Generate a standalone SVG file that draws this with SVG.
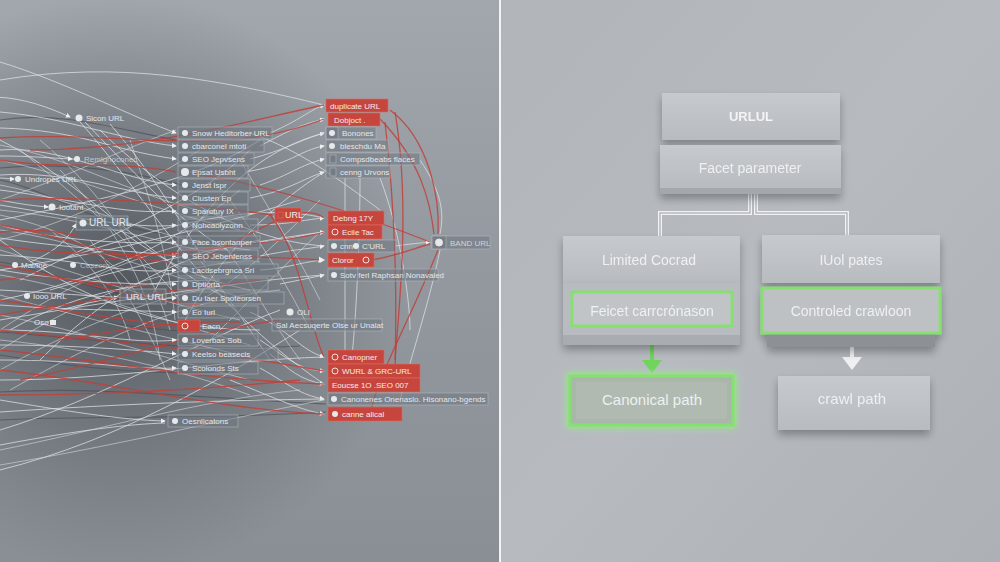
<svg xmlns="http://www.w3.org/2000/svg" width="1000" height="562" viewBox="0 0 1000 562">
<defs>
<linearGradient id="bgL" x1="0" y1="0" x2="0" y2="1"><stop offset="0" stop-color="#a2a7ad"/><stop offset="0.5" stop-color="#93989f"/><stop offset="1" stop-color="#8a8f96"/></linearGradient>
<radialGradient id="darkL" cx="120" cy="285" r="290" gradientUnits="userSpaceOnUse"><stop offset="0" stop-color="#464b52" stop-opacity="0.85"/><stop offset="0.55" stop-color="#555a61" stop-opacity="0.45"/><stop offset="1" stop-color="#5a5f66" stop-opacity="0"/></radialGradient>
<linearGradient id="bgR" x1="0" y1="0" x2="1" y2="1"><stop offset="0" stop-color="#b1b5ba"/><stop offset="0.5" stop-color="#b7bbc0"/><stop offset="1" stop-color="#adb1b6"/></linearGradient>
<linearGradient id="box" x1="0" y1="0" x2="0" y2="1"><stop offset="0" stop-color="#c6c9cd"/><stop offset="1" stop-color="#b8bcc0"/></linearGradient>
<filter id="sh" x="-20%" y="-20%" width="140%" height="160%"><feGaussianBlur in="SourceAlpha" stdDeviation="4"/><feOffset dy="5"/><feComponentTransfer><feFuncA type="linear" slope="0.3"/></feComponentTransfer><feMerge><feMergeNode/><feMergeNode in="SourceGraphic"/></feMerge></filter>
<filter id="glow" x="-20%" y="-30%" width="140%" height="160%"><feGaussianBlur stdDeviation="3"/></filter>
<marker id="aw" viewBox="0 0 6 6" refX="5" refY="3" markerWidth="5" markerHeight="5" orient="auto"><path d="M0 0 L6 3 L0 6 Z" fill="#eef0f2"/></marker>
<style>
text{font-family:"Liberation Sans",Arial,sans-serif}
.cg path{fill:none;stroke:#d9dde1;stroke-width:1;stroke-opacity:.8}
.cx path{fill:none;stroke:#e2e5e8;stroke-width:.9;stroke-opacity:.6}
.cr path{fill:none;stroke:#c0413a;stroke-width:1.3;stroke-opacity:.85}
.cd path{fill:none;stroke:#4b5058;stroke-width:1.2;stroke-opacity:.7}
.tg rect{fill:#6f767f;fill-opacity:.55;stroke:#b0b5bb;stroke-width:.6}
.tg circle{fill:#e6e9ec}
.tg text,.tr text,.tn text{font-size:8px;fill:#e4e7ea}
.tr rect{fill:#c6463d;stroke:#dc6a60;stroke-width:.6}
.tr text{fill:#f5ecea}
.tr circle{fill:none;stroke:#f3e3e0;stroke-width:1}
.ri{fill:#c6463d}
.tn circle{fill:#e6e9ec}
.bx text{font-size:14px;fill:#eef0f2;text-anchor:middle}
</style>
</defs>

<g id="background">
<rect x="0" y="0" width="500" height="562" fill="url(#bgL)"/>
<rect x="0" y="0" width="500" height="562" fill="url(#darkL)"/>
<rect x="500" y="0" width="500" height="562" fill="url(#bgR)"/>
<line x1="500" y1="0" x2="500" y2="562" stroke="#f2f3f5" stroke-width="2"/>
</g>

<g id="connectors">
<g class="cd">
<path d="M0 120 C60 110 120 130 176 140"/>
<path d="M0 332 C100 340 200 352 300 346"/>
<path d="M0 392 C100 386 200 398 326 404"/>
<path d="M0 262 C60 272 110 300 176 300"/>
<path d="M0 355 C90 370 160 375 230 372"/>
<path d="M0 180 C50 190 100 230 176 235"/>
<path d="M20 300 C80 320 140 330 200 332"/>
<path d="M0 420 C100 415 200 420 326 412"/>
<path d="M0 168 C80 160 150 175 200 190"/>
</g>
<g class="cx">
<path d="M0 145 C80 160 140 200 220 215"/>
<path d="M0 160 C90 180 150 210 240 230"/>
<path d="M0 185 C80 200 150 240 250 250"/>
<path d="M0 210 C100 220 180 250 260 262"/>
<path d="M0 230 C80 240 180 280 250 300"/>
<path d="M0 250 C70 270 150 300 240 320"/>
<path d="M0 275 C90 290 160 320 250 345"/>
<path d="M0 295 C90 320 180 340 260 360"/>
<path d="M0 315 C80 330 170 360 250 380"/>
<path d="M0 340 C100 350 180 370 250 395"/>
<path d="M20 150 C80 200 140 250 180 300"/>
<path d="M40 140 C100 190 150 260 170 330"/>
<path d="M60 170 C110 220 150 280 160 360"/>
<path d="M130 140 C150 200 170 260 175 320"/>
<path d="M0 330 C60 290 120 260 200 240"/>
<path d="M0 350 C80 300 150 270 250 260"/>
<path d="M0 370 C90 320 170 290 260 280"/>
<path d="M10 390 C100 340 180 300 280 290"/>
<path d="M0 200 C60 180 120 150 176 130"/>
<path d="M0 240 C80 220 150 180 200 150"/>
<path d="M0 215 C70 230 120 260 140 300"/>
<path d="M50 230 C90 260 120 300 130 340"/>
<path d="M90 240 C120 280 150 330 170 380"/>
<path d="M200 260 C230 300 250 330 270 360"/>
<path d="M220 240 C250 280 270 320 300 360"/>
<path d="M230 200 C260 240 290 290 310 330"/>
<path d="M240 160 C270 210 300 260 320 300"/>
<path d="M200 300 C240 280 280 240 320 200"/>
<path d="M210 340 C250 300 290 260 322 230"/>
<path d="M0 450 C100 430 200 400 300 390"/>
<path d="M0 465 C120 445 220 420 324 400"/>
</g>
<g class="cg">
<path d="M-5 97 C25 98 50 108 70 117" marker-end="url(#aw)"/>
<path d="M0 62 C60 80 140 120 176 133" marker-end="url(#aw)"/>
<path d="M0 112 C70 118 120 140 176 146" marker-end="url(#aw)"/>
<path d="M0 128 C80 130 110 150 176 159" marker-end="url(#aw)"/>
<path d="M0 150 C60 145 120 180 176 185" marker-end="url(#aw)"/>
<path d="M0 175 C70 170 130 195 176 198" marker-end="url(#aw)"/>
<path d="M0 190 C80 200 120 215 176 211" marker-end="url(#aw)"/>
<path d="M0 205 C60 215 140 230 176 225" marker-end="url(#aw)"/>
<path d="M0 225 C50 240 130 245 176 242" marker-end="url(#aw)"/>
<path d="M0 238 C80 250 130 250 176 256" marker-end="url(#aw)"/>
<path d="M0 255 C90 260 120 275 176 270" marker-end="url(#aw)"/>
<path d="M0 270 C60 280 120 285 176 284" marker-end="url(#aw)"/>
<path d="M0 290 C90 295 130 300 176 298" marker-end="url(#aw)"/>
<path d="M0 305 C70 310 120 310 176 312" marker-end="url(#aw)"/>
<path d="M0 330 C80 330 130 345 176 340" marker-end="url(#aw)"/>
<path d="M0 345 C70 345 140 350 176 354" marker-end="url(#aw)"/>
<path d="M0 360 C90 360 130 370 176 368" marker-end="url(#aw)"/>
<path d="M0 400 C60 410 120 420 165 421" marker-end="url(#aw)"/>
<path d="M0 445 C80 430 130 424 165 423"/>
<path d="M0 156 C30 156 50 158 72 159" marker-end="url(#aw)"/>
<path d="M0 200 C20 204 35 206 48 207" marker-end="url(#aw)"/>
<path d="M0 178 C5 178 10 179 14 179" marker-end="url(#aw)"/>
<path d="M30 262 C60 250 70 235 76 224" marker-end="url(#aw)"/>
<path d="M60 310 C80 305 100 300 118 297" marker-end="url(#aw)"/>
<path d="M270 133 C300 120 310 110 324 105" marker-end="url(#aw)"/>
<path d="M260 146 C290 130 300 125 324 119" marker-end="url(#aw)"/>
<path d="M250 159 C285 150 300 140 324 133" marker-end="url(#aw)"/>
<path d="M245 172 C290 165 300 150 324 146" marker-end="url(#aw)"/>
<path d="M260 185 C290 175 300 165 324 159" marker-end="url(#aw)"/>
<path d="M250 198 C290 190 300 180 324 172" marker-end="url(#aw)"/>
<path d="M250 225 C290 225 300 220 324 218" marker-end="url(#aw)"/>
<path d="M260 242 C290 240 300 235 324 232" marker-end="url(#aw)"/>
<path d="M260 256 C290 250 300 250 324 246" marker-end="url(#aw)"/>
<path d="M260 270 C290 268 300 262 324 260" marker-end="url(#aw)"/>
<path d="M280 284 C300 280 310 278 324 275" marker-end="url(#aw)"/>
<path d="M250 312 C290 330 300 350 324 357" marker-end="url(#aw)"/>
<path d="M260 340 C290 360 300 370 324 371" marker-end="url(#aw)"/>
<path d="M270 354 C290 370 300 380 324 384" marker-end="url(#aw)"/>
<path d="M260 368 C290 385 300 395 324 399" marker-end="url(#aw)"/>
<path d="M230 380 C280 400 300 410 324 414" marker-end="url(#aw)"/>
<path d="M0 80 C120 60 220 80 324 105"/>
<path d="M80 122 C150 200 200 300 324 384"/>
<path d="M100 130 C160 190 240 240 324 246"/>
<path d="M60 260 C150 230 250 200 324 218"/>
<path d="M0 320 C120 300 250 280 324 275"/>
<path d="M50 290 C150 260 260 240 324 232"/>
<path d="M0 380 C120 380 220 360 324 357"/>
<path d="M0 412 C150 402 250 400 324 399"/>
<path d="M150 300 C200 200 260 150 324 133"/>
<path d="M180 330 C220 250 280 200 324 172"/>
<path d="M85 122 C140 180 190 230 230 252"/>
<path d="M110 124 C150 170 180 220 205 262"/>
<path d="M0 140 C80 180 150 260 230 300"/>
<path d="M0 220 C100 200 200 180 260 140"/>
<path d="M20 280 C120 230 200 200 250 150"/>
<path d="M0 300 C100 280 180 240 240 190"/>
<path d="M0 240 C80 300 160 330 260 330"/>
<path d="M10 330 C80 290 150 280 220 280"/>
<path d="M0 430 C100 400 200 340 280 310"/>
<path d="M0 470 C120 440 220 380 300 330"/>
<path d="M40 360 C100 300 160 260 260 240"/>
<path d="M0 270 C120 250 200 230 300 200"/>
<path d="M120 230 C160 260 200 280 250 290"/>
<path d="M395 246 C410 244 420 243 430 242" marker-end="url(#aw)"/>
<path d="M420 160 C440 190 445 210 440 234"/>
<path d="M440 250 C430 300 410 360 400 400"/>
<path d="M345 178 C345 250 345 320 345 355"/>
<path d="M360 178 C360 250 355 330 352 355"/>
<path d="M250 133 C300 150 340 180 380 210"/>
<path d="M380 178 C400 230 410 300 410 330"/>
</g>
<g class="cr">
<path d="M0 160 C60 170 120 160 176 172"/>
<path d="M0 232 C40 228 60 232 80 236"/>
<path d="M0 245 C80 260 150 250 324 260" marker-end="url(#aw)"/>
<path d="M0 300 C60 310 120 320 176 326"/>
<path d="M0 330 C80 340 150 340 324 371"/>
<path d="M0 350 C100 360 200 380 324 384"/>
<path d="M0 370 C100 380 220 410 324 414"/>
<path d="M0 200 C100 195 200 205 273 215"/>
<path d="M30 150 C150 150 250 120 324 105"/>
<path d="M0 138 C120 130 220 160 324 119"/>
<path d="M180 172 C250 180 350 210 430 242"/>
<path d="M200 260 C260 230 300 200 324 218"/>
<path d="M270 215 C300 250 310 330 324 357"/>
<path d="M100 260 C200 250 300 240 324 232"/>
<path d="M390 110 C430 140 440 200 438 234"/>
<path d="M380 119 C420 160 430 200 434 234"/>
<path d="M372 260 C400 255 415 248 430 244"/>
<path d="M395 112 C410 200 400 300 395 360"/>
<path d="M385 122 C400 250 395 350 395 380"/>
<path d="M438 250 C410 320 380 370 370 414"/>
<path d="M0 280 C60 270 100 290 150 285"/>
<path d="M0 315 C80 300 180 290 260 280"/>
<path d="M20 380 C120 360 200 330 280 320"/>
<path d="M0 395 C100 395 200 390 300 380"/>
<path d="M0 225 C60 235 120 260 170 262"/>
<path d="M0 265 C80 280 140 300 200 305"/>
<path d="M60 340 C120 330 180 320 240 322"/>
</g>
</g>

<g id="left-nodes">
<g id="n-sicon" class="tn"><circle cx="79" cy="118" r="3.5"/><text x="86" y="121">Sicon URL</text></g>
<g id="n-reml" class="tn"><circle cx="77" cy="159" r="3"/><text x="84" y="162" fill-opacity=".7">Remlgnoconec</text></g>
<g id="n-undr" class="tn"><circle cx="18" cy="179" r="3"/><text x="25" y="182">Undropes URL</text></g>
<g id="n-iootant" class="tn"><circle cx="52" cy="207" r="3.5"/><text x="59" y="210">Iootant</text></g>
<g id="n-urlurl1" class="tg"><rect x="76" y="216" width="52" height="14"/><circle cx="83" cy="223" r="3.5"/><text x="89" y="226" style="font-size:10px">URL URL</text></g>
<g id="n-mal" class="tn"><circle cx="15" cy="265" r="3"/><text x="21" y="268">Mal/Ine</text><circle cx="73" cy="265" r="3"/><text x="80" y="268" fill-opacity=".6">Ceszoro</text></g>
<g id="n-iooo" class="tn"><circle cx="27" cy="296" r="3"/><text x="33" y="299">Iooo URL</text></g>
<g id="n-urlurl2" class="tg"><rect x="120" y="289" width="46" height="15"/><text x="126" y="300" style="font-size:9.5px">URL URL</text></g>
<g id="n-oso" class="tn"><text x="34" y="325">Oso</text><rect x="50" y="320" width="6" height="5" fill="#e6e9ec"/></g>
<g id="n-oesn" class="tg"><rect x="168" y="415" width="70" height="12"/><circle cx="175" cy="421" r="3"/><text x="182" y="424">Oesnlicatons</text></g>

<g id="a1" class="tg"><rect x="178" y="127" width="94" height="12"/><circle cx="185" cy="133" r="3"/><text x="192" y="136">Snow Heditorber URL</text></g>
<g id="a2" class="tg"><rect x="178" y="140" width="86" height="12"/><circle cx="185" cy="146" r="3"/><text x="192" y="149">cbarconel mtoti</text></g>
<g id="a3" class="tg"><rect x="178" y="153" width="76" height="12"/><circle cx="185" cy="159" r="3"/><text x="192" y="162">SEO Jepvsens</text></g>
<g id="a4" class="tg"><rect x="178" y="166" width="70" height="12"/><circle cx="185" cy="172" r="4" class="ri"/><text x="192" y="175">Epsat Usbht</text></g>
<g id="a5" class="tg"><rect x="178" y="179" width="72" height="12"/><circle cx="185" cy="185" r="3"/><text x="192" y="188">Jenst Ispr</text></g>
<g id="a6" class="tg"><rect x="178" y="192" width="70" height="12"/><circle cx="185" cy="198" r="3"/><text x="192" y="201">Clusten Ep</text></g>
<g id="a7" class="tg"><rect x="178" y="205" width="70" height="12"/><circle cx="185" cy="211" r="3"/><text x="192" y="214">Sparotuy IX</text></g>
<g id="a8" class="tg"><rect x="178" y="219" width="80" height="12"/><circle cx="185" cy="225" r="3"/><text x="192" y="228">Nohcaolyzonn</text></g>
<g id="a9" class="tg"><rect x="178" y="236" width="82" height="12"/><circle cx="185" cy="242" r="3"/><text x="192" y="245">Face bsontanper</text></g>
<g id="a10" class="tg"><rect x="178" y="250" width="80" height="12"/><circle cx="185" cy="256" r="3"/><text x="192" y="259">SEO Jebenfenss</text></g>
<g id="a11" class="tg"><rect x="178" y="264" width="100" height="12"/><circle cx="185" cy="270" r="3"/><text x="192" y="273">Lacdsebrgnca Sri</text></g>
<g id="a12" class="tg"><rect x="178" y="278" width="90" height="12"/><circle cx="185" cy="284" r="3"/><text x="192" y="287">Dptiorta</text></g>
<g id="a13" class="tg"><rect x="178" y="292" width="106" height="12"/><circle cx="185" cy="298" r="3"/><text x="192" y="301">Du laer Spoteorsen</text></g>
<g id="a14" class="tg"><rect x="178" y="306" width="80" height="12"/><circle cx="185" cy="312" r="3"/><text x="192" y="315">Eo Iurl</text></g>
<g id="a15" class="tr"><rect x="178" y="320" width="22" height="12"/><circle cx="185" cy="326" r="3"/><text x="202" y="329" style="fill:#e4e7ea">Eacn</text></g>
<g id="a16" class="tg"><rect x="178" y="334" width="80" height="12"/><circle cx="185" cy="340" r="3"/><text x="192" y="343">Loverbas Sob</text></g>
<g id="a17" class="tg"><rect x="178" y="348" width="100" height="12"/><circle cx="185" cy="354" r="3"/><text x="192" y="357">Keelso beasecis</text></g>
<g id="a18" class="tg"><rect x="178" y="362" width="80" height="12"/><circle cx="185" cy="368" r="3"/><text x="192" y="371">Scolonds Sts</text></g>

<g id="m-url" class="tr"><rect x="275" y="208" width="26" height="14"/><rect x="278" y="212" width="5" height="6" fill="#f3e3e0"/><text x="285" y="218" style="font-size:9px">URL</text></g>
<g id="m-oli" class="tn"><circle cx="290" cy="312" r="3.5"/><text x="297" y="315">OLI</text></g>
<g id="m-sal" class="tg"><rect x="272" y="319" width="110" height="12"/><text x="276" y="328">Sal Aecsuqerte Olse ur Unalat</text></g>

<g id="b1" class="tr"><rect x="326" y="99" width="62" height="13"/><text x="330" y="108.5">duplicate URL</text></g>
<g id="b2" class="tr"><rect x="328" y="113" width="52" height="13"/><text x="334" y="122.5">Dobjoct .</text></g>
<g id="b3" class="tg"><rect x="326" y="127" width="50" height="12"/><rect x="326" y="127" width="12" height="12" class="ri"/><circle cx="332" cy="133" r="3"/><text x="342" y="136">Bonones</text></g>
<g id="b4" class="tg"><rect x="326" y="140" width="62" height="12"/><circle cx="332" cy="146" r="3"/><text x="340" y="149">bleschdu Ma</text></g>
<g id="b5" class="tg"><rect x="326" y="153" width="94" height="12"/><rect x="330" y="155" width="6" height="8" fill="#e8c9cd"/><text x="340" y="162">Compsdbeabs flaces</text></g>
<g id="b6" class="tg"><rect x="326" y="166" width="64" height="12"/><rect x="330" y="168" width="6" height="8" fill="#e8c9cd"/><text x="340" y="175">cenng Urvons</text></g>
<g id="b7" class="tr"><rect x="328" y="211" width="56" height="14"/><text x="333" y="221">Debng 17Y</text></g>
<g id="b8" class="tr"><rect x="328" y="225" width="54" height="14"/><circle cx="335" cy="232" r="3"/><text x="342" y="235">Ecile Tac</text></g>
<g id="b9" class="tg"><rect x="328" y="240" width="68" height="12"/><circle cx="334" cy="246" r="3"/><circle cx="356" cy="246" r="3"/><text x="340" y="249">cnn</text><text x="362" y="249">C'URL</text></g>
<g id="b10" class="tr"><rect x="328" y="253" width="46" height="14"/><text x="332" y="263">Cloror</text><circle cx="366" cy="260" r="3"/></g>
<g id="b11" class="tg"><rect x="328" y="269" width="110" height="12"/><circle cx="334" cy="275" r="3"/><text x="340" y="278">Sotv ferl Raphsan Nonavaled</text></g>
<g id="b12" class="tr"><rect x="328" y="350" width="56" height="14"/><circle cx="335" cy="357" r="3"/><text x="342" y="360">Canopner</text></g>
<g id="b13" class="tr"><rect x="328" y="364" width="92" height="14"/><circle cx="335" cy="371" r="3"/><text x="342" y="374">WURL &amp; GRC-URL</text></g>
<g id="b14" class="tr"><rect x="328" y="378" width="92" height="14"/><text x="332" y="388">Eoucse 1O .SEO 007</text></g>
<g id="b15" class="tg"><rect x="328" y="393" width="160" height="12"/><circle cx="334" cy="399" r="3"/><text x="341" y="402">Canonenes Onenaslo. Hisonano-bgends</text></g>
<g id="b16" class="tr"><rect x="328" y="407" width="74" height="14"/><circle cx="335" cy="414" r="3" style="fill:#e6e9ec;stroke:none"/><text x="342" y="417">canne alical</text></g>

<g id="c-band" class="tg"><rect x="432" y="236" width="58" height="13"/><rect x="432" y="236" width="14" height="13" class="ri"/><circle cx="439" cy="242.5" r="3.5" fill="none" stroke="#f3e3e0"/><text x="450" y="246" fill-opacity=".8">BAND URL</text></g>
</g>

<g id="right-connectors">
<path d="M750 193 V213 H660 V236" fill="none" stroke="#f0f2f4" stroke-width="4"/>
<path d="M756 193 V213 H847 V236" fill="none" stroke="#f0f2f4" stroke-width="4"/>
<path d="M750 193 V213 H660 V236" fill="none" stroke="#b5b9be" stroke-width="1.5"/>
<path d="M756 193 V213 H847 V236" fill="none" stroke="#b5b9be" stroke-width="1.5"/>
<g id="arrow-green"><line x1="652" y1="336" x2="652" y2="362" stroke="#6fd35c" stroke-width="4"/><polygon points="642,360 662,360 652,373" fill="#6fd35c"/></g>
<g id="arrow-white"><line x1="852" y1="346" x2="852" y2="359" stroke="#eef0f2" stroke-width="4"/><polygon points="842,357 862,357 852,370" fill="#eef0f2"/></g>
</g>

<g id="urlul" class="bx" filter="url(#sh)"><rect x="662" y="93" width="178" height="47" fill="url(#box)"/><text x="751" y="121" style="font-size:13px;font-weight:bold;fill:#f3f4f6">URLUL</text></g>
<g id="facet" class="bx" filter="url(#sh)"><rect x="660" y="180" width="181" height="14" fill="#a4a8ad"/><rect x="660" y="145" width="181" height="43" fill="url(#box)"/><text x="750" y="173">Facet parameter</text></g>
<g id="limited" class="bx" filter="url(#sh)"><rect x="563" y="236" width="177" height="47" fill="url(#box)"/><text x="649" y="265">Limited Cocrad</text></g>
<g id="iuol" class="bx" filter="url(#sh)"><rect x="762" y="235" width="178" height="48" fill="url(#box)"/><text x="851" y="265">IUol pates</text></g>
<g id="feicet" class="bx" filter="url(#sh)"><rect x="563" y="283" width="177" height="62" fill="#a9adb2"/><rect x="563" y="283" width="177" height="52" fill="#b8bcc0"/><rect x="572" y="292" width="160" height="34" fill="#c0c4c7" stroke="#86e070" stroke-width="3"/><text x="652" y="316">Feicet carrcrónason</text></g>
<g id="controled" class="bx" filter="url(#sh)"><rect x="767" y="330" width="168" height="17" fill="#8d9196"/><rect x="762" y="288" width="178" height="45" fill="#bdc1c4" stroke="#86e070" stroke-width="3"/><text x="851" y="316">Controled crawloon</text></g>
<g id="canonical" class="bx"><rect x="570" y="376" width="163" height="49" fill="none" stroke="#8ff07a" stroke-width="6" filter="url(#glow)"/><rect x="570" y="376" width="163" height="49" fill="#a9b6aa" stroke="#86e070" stroke-width="3"/><rect x="576" y="382" width="151" height="37" fill="#b0bab1"/><text x="652" y="405" style="font-size:15px">Canonical path</text></g>
<g id="crawl" class="bx" filter="url(#sh)"><rect x="778" y="376" width="152" height="54" fill="url(#box)"/><text x="852" y="404" style="font-size:15px">crawl path</text></g>
</svg>
